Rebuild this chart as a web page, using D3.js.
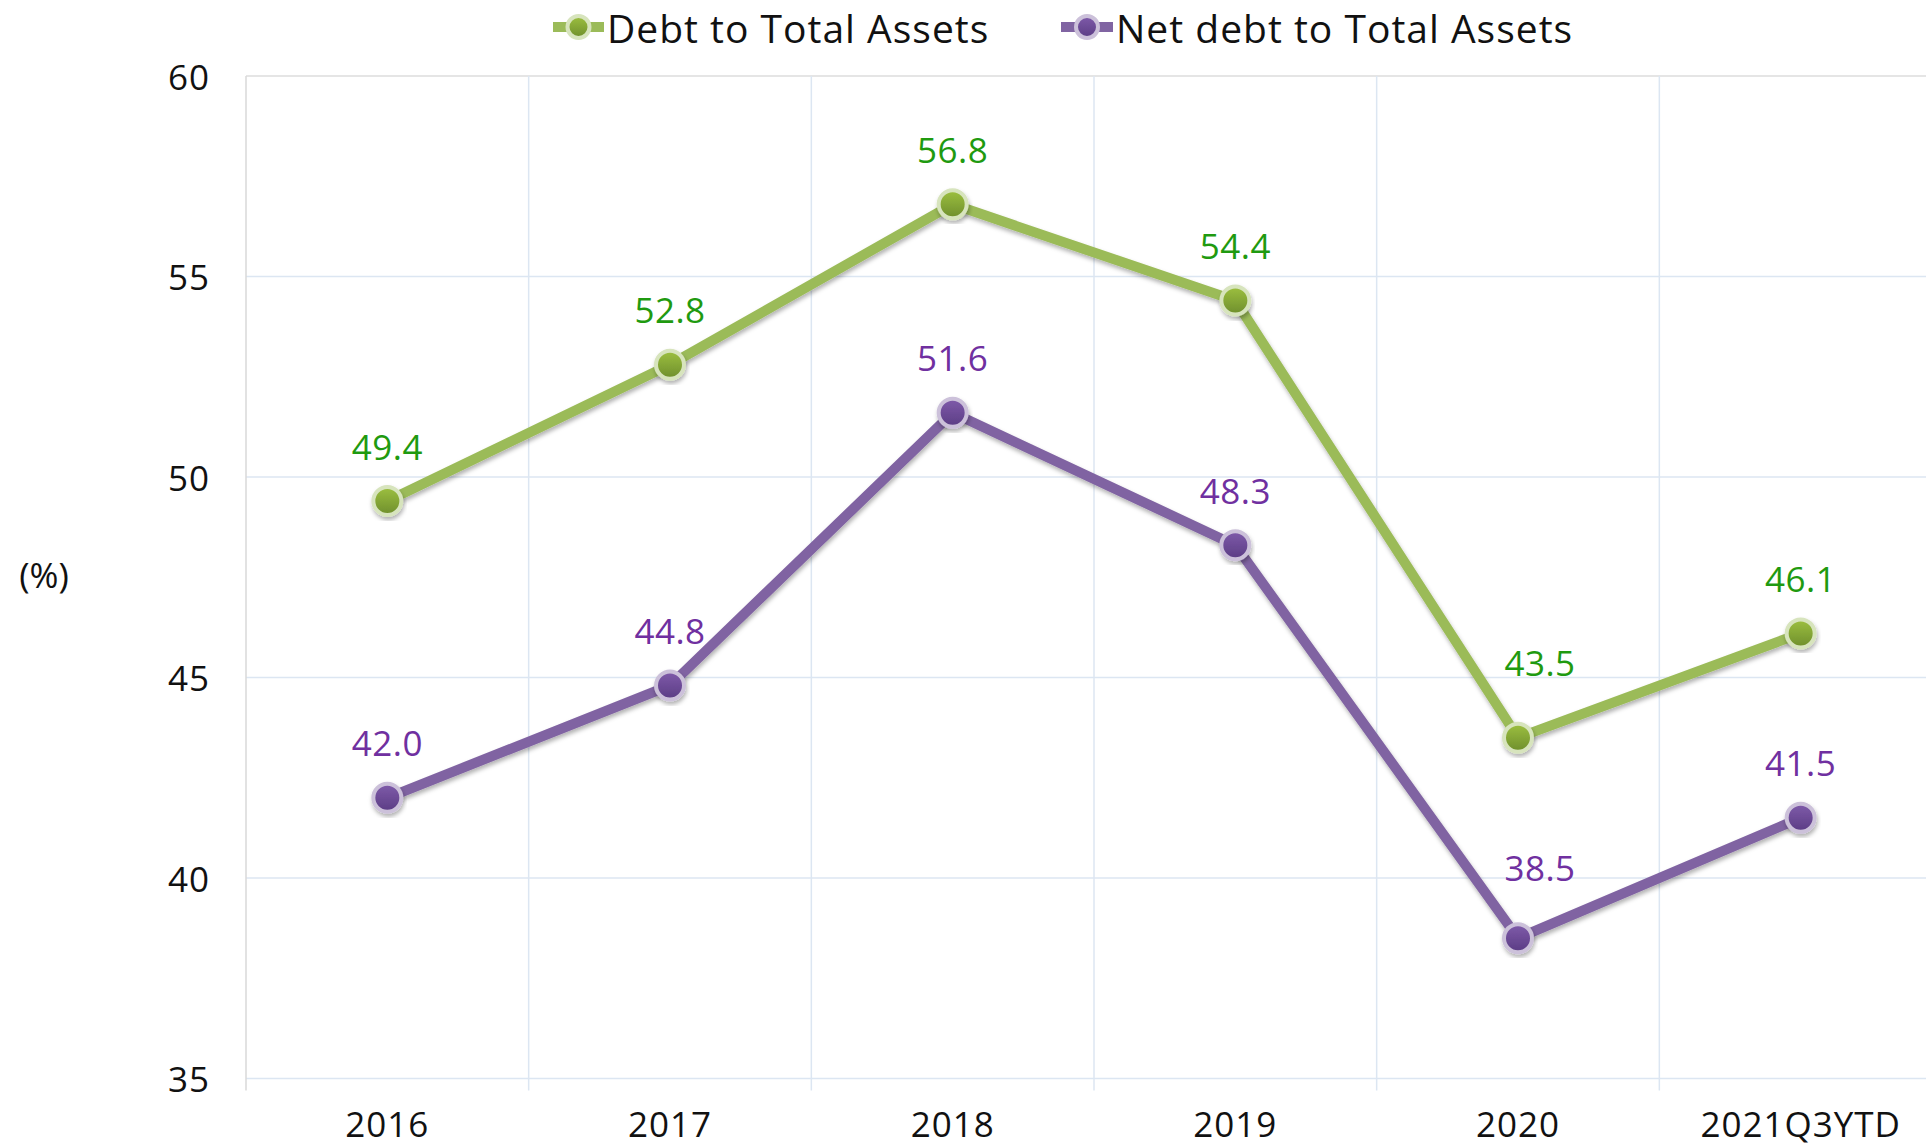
<!DOCTYPE html>
<html><head><meta charset="utf-8">
<script src="https://cdn.jsdelivr.net/npm/d3@7"></script>
<style>body{margin:0;background:#fff}svg{display:block}</style>
</head><body>
<script>
const categories = ["2016","2017","2018","2019","2020","2021Q3YTD"];
const debtToAssets = [49.4, 52.8, 56.8, 54.4, 43.5, 46.1];
const netDebtToAssets = [42.0, 44.8, 51.6, 48.3, 38.5, 41.5];
const yTicks = [35, 40, 45, 50, 55, 60];
const seriesNames = ["Debt to Total Assets", "Net debt to Total Assets"];

const W = 1926, H = 1148;
const m = {left: 246, top: 76, right: 1942, bottom: 1078.5};
const font = "'Open Sans', 'Noto Sans', sans-serif";

const svg = d3.select("body").append("svg").attr("width", W).attr("height", H);
const defs = svg.append("defs");
const f = defs.append("filter").attr("id","sh").attr("x","-20%").attr("y","-20%").attr("width","140%").attr("height","140%");
f.append("feDropShadow").attr("dx",1).attr("dy",3).attr("stdDeviation",2).attr("flood-color","#000").attr("flood-opacity",0.3);

function grad(id, c1, c2){
  const g = defs.append("linearGradient").attr("id",id).attr("x1",0).attr("y1",0).attr("x2",0).attr("y2",1);
  g.append("stop").attr("offset","0%").attr("stop-color",c1);
  g.append("stop").attr("offset","100%").attr("stop-color",c2);
}
grad("gG","#9DC040","#6E8E2C");
grad("gP","#7F5BAA","#5B3C84");

const x = d3.scaleBand().domain(categories).range([m.left, m.right]);
const y = d3.scaleLinear().domain([35, 60]).range([m.bottom, m.top]);

// grid
const grid = svg.append("g");
grid.selectAll("line.h").data(yTicks).join("line")
  .attr("x1", m.left).attr("x2", m.right)
  .attr("y1", d => y(d)).attr("y2", d => y(d))
  .attr("stroke", d => d === 60 ? "#DDDDDD" : "#DCE6F2").attr("stroke-width", 1.5);
grid.selectAll("line.v").data(categories.slice(1)).join("line")
  .attr("x1", d => x(d)).attr("x2", d => x(d))
  .attr("y1", m.top).attr("y2", m.bottom + 12)
  .attr("stroke", "#DCE6F2").attr("stroke-width", 1.5);
svg.append("line").attr("x1", m.left).attr("x2", m.left).attr("y1", m.top).attr("y2", m.bottom + 12)
  .attr("stroke", "#D9D9D9").attr("stroke-width", 1.5);

// y axis labels
svg.append("g").selectAll("text").data(yTicks).join("text")
  .attr("x", 210).attr("y", d => y(d)).attr("text-anchor","end").attr("dominant-baseline","central")
  .attr("font-family", font).attr("font-size", 35).attr("letter-spacing", 1).attr("fill","#111").text(d => d);
svg.append("text").attr("x", 44).attr("y", 574).attr("text-anchor","middle").attr("dominant-baseline","central")
  .attr("font-family", font).attr("font-size", 35).attr("fill","#111").text("(%)");

// x axis labels
svg.append("g").selectAll("text").data(categories).join("text")
  .attr("x", d => x(d) + x.bandwidth()/2).attr("y", 1123).attr("text-anchor","middle").attr("dominant-baseline","central")
  .attr("font-family", font).attr("font-size", 35).attr("letter-spacing", 1).attr("fill","#111").text(d => d);

const series = [
  {name: seriesNames[0], vals: debtToAssets, line: "#9BBB59", ring: "#D7E4BD", fill: "url(#gG)", label: "#1F9A10"},
  {name: seriesNames[1], vals: netDebtToAssets, line: "#8064A2", ring: "#CCC1DA", fill: "url(#gP)", label: "#7030A0"}
];
// per-point label nudges (style only)
const labelDx = [0,0,0,0,22,0];
const labelDy = [-55,-55,-55,-55,-75,-55];
const labelDy2 = [-55,-55,-55,-55,-71,-55];

const lineGen = d3.line().x((d,i) => x(categories[i]) + x.bandwidth()/2).y(d => y(d));
series.forEach((s, si) => {
  const g = svg.append("g");
  g.append("path").datum(s.vals).attr("d", lineGen).attr("fill","none")
    .attr("stroke", s.line).attr("stroke-width", 10).attr("stroke-linejoin","round").attr("filter","url(#sh)");
  g.selectAll("circle").data(s.vals).join("circle")
    .attr("cx", (d,i) => x(categories[i]) + x.bandwidth()/2).attr("cy", d => y(d))
    .attr("r", 14).attr("fill", s.fill).attr("stroke", s.ring).attr("stroke-width", 4).attr("filter","url(#sh)");
  g.selectAll("text").data(s.vals).join("text")
    .attr("x", (d,i) => x(categories[i]) + x.bandwidth()/2 + labelDx[i])
    .attr("y", (d,i) => y(d) + (si === 0 ? labelDy[i] : labelDy2[i]))
    .attr("text-anchor","middle").attr("dominant-baseline","central")
    .attr("font-family", font).attr("font-size", 35).attr("letter-spacing", 0.5).attr("fill", s.label).text(d => d.toFixed(1));
});

// legend
const legend = [{x0: 553, x1: 604, tx: 607}, {x0: 1061, x1: 1113, tx: 1116}];
series.forEach((s, i) => {
  const L = legend[i];
  const g = svg.append("g");
  g.append("line").attr("x1", L.x0).attr("x2", L.x1).attr("y1", 27).attr("y2", 27).attr("stroke", s.line).attr("stroke-width", 10);
  g.append("circle").attr("cx", (L.x0 + L.x1)/2).attr("cy", 27).attr("r", 11).attr("fill", s.fill).attr("stroke", s.ring).attr("stroke-width", 4);
  g.append("text").attr("x", L.tx).attr("y", 27).attr("dominant-baseline","central")
    .attr("font-family", font).attr("font-size", 39).attr("letter-spacing", 1).attr("fill","#111").text(s.name);
});
</script>
</body></html>
